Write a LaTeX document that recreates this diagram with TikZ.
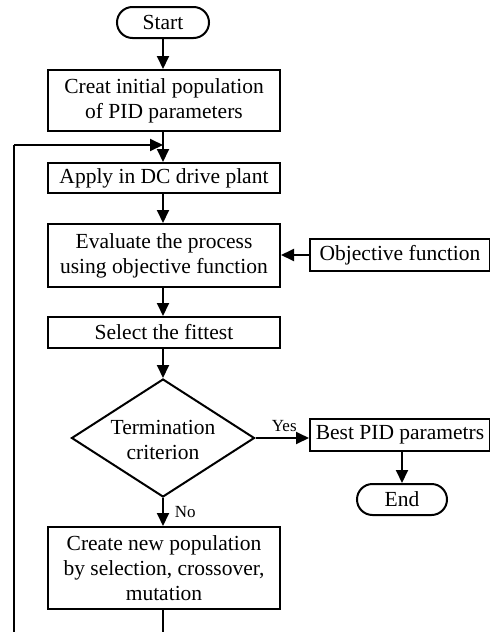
\documentclass[tikz,border=0pt]{standalone}
\usepackage{fontspec}
\setmainfont{Liberation Serif}
\usetikzlibrary{shapes.geometric,shapes.misc,arrows.meta}
\begin{document}
\begin{tikzpicture}[x=1pt,y=-1pt,
  box/.style={draw, line width=2pt, rectangle, inner sep=0pt, align=center,
    font=\fontsize{21.5}{25}\selectfont},
  term/.style={draw, line width=2pt, rounded rectangle, inner sep=0pt,
    font=\fontsize{21.5}{25}\selectfont},
  conn/.style={line width=1.9pt, -{Triangle[length=13pt,width=12pt]}},
  line/.style={line width=1.9pt},
  lbl/.style={font=\fontsize{17}{20}\selectfont, inner sep=0pt}]
\useasboundingbox (0,0) rectangle (490,632);
\clip (0,0) rectangle (490,632);
\node[term, minimum width=92pt, minimum height=31pt] (start) at (163,22.5) {Start};
\node[box, minimum width=232pt, minimum height=61pt] (init) at (164,100.5) {Creat initial population\\of PID parameters};
\node[box, minimum width=232pt, minimum height=30pt] (apply) at (164,178) {Apply in DC drive plant};
\node[box, minimum width=232pt, minimum height=63pt] (eval) at (164,255.5) {Evaluate the process\\using objective function};
\node[box, minimum width=180pt, minimum height=32pt] (obj) at (400,255) {Objective function};
\node[box, minimum width=232pt, minimum height=31pt] (sel) at (164,332.5) {Select the fittest};
\node[draw, line width=2pt, diamond, minimum width=183pt, minimum height=118pt, inner sep=0pt, aspect=1.55] (dec) at (163,438) {};
\node[align=center, inner sep=0pt, font=\fontsize{21.5}{25}\selectfont] (dectext) at (163,440) {Termination\\criterion};
\node[box, minimum width=180pt, minimum height=32pt] (best) at (400,435) {Best PID parametrs};
\node[term, minimum width=90pt, minimum height=31pt] (end) at (402,499.5) {End};
\node[box, minimum width=232pt, minimum height=82pt] (newpop) at (164,568) {Create new population\\by selection, crossover,\\mutation};
\coordinate (bl) at (14,645);
\coordinate (tl) at (14,145);
\coordinate (join) at (163,145);
\draw[conn] (start) -- (init.north -| join);
\draw[conn] (init.south -| join) -- (apply.north -| join);
\draw[conn] (apply.south -| join) -- (eval.north -| join);
\draw[conn] (obj) -- (eval.east |- obj);
\draw[conn] (eval.south -| join) -- (sel.north -| join);
\draw[conn] (sel.south -| join) -- (dec.north);
\draw[conn] (dec.east) -- node[lbl, above=5pt, xshift=2pt] (yes) {Yes} (best.west |- dec.east);
\draw[conn] (best.south -| end) -- (end.north);
\draw[conn] (dec.south) -- node[lbl, right=11pt] (no) {No} (newpop.north -| join);
\draw[line] (newpop.south -| join) -- (join |- bl) -- (bl) -- (tl);
\draw[conn] (tl) -- (join);
\end{tikzpicture}
\end{document}
